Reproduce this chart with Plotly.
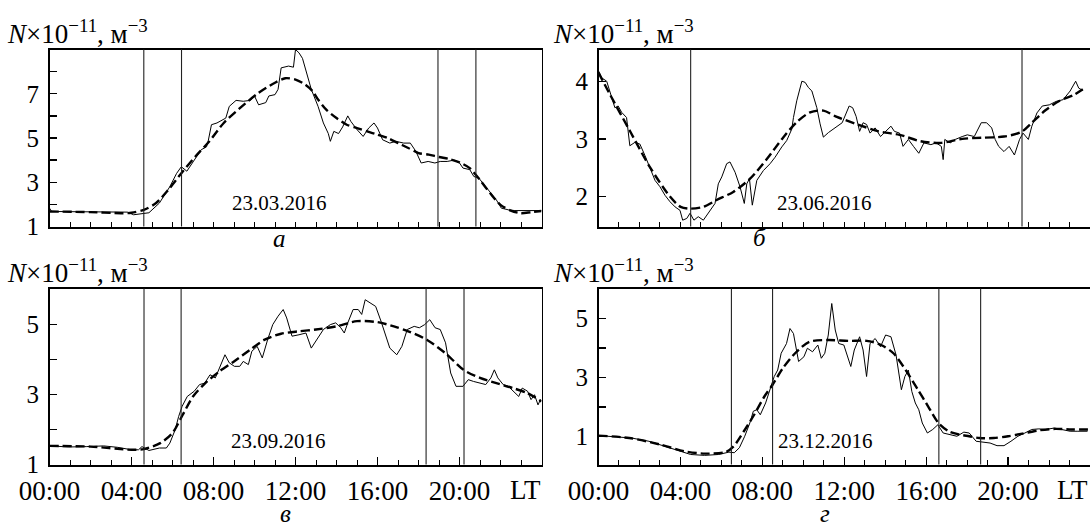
import plotly.graph_objects as go

# ---------------- data (hours LT, N x 1e-11 m^-3) ----------------
a_hours = [0.0, 0.1, 1.0, 2.0, 3.0, 3.8, 4.1, 4.3, 4.5, 4.85, 5.36, 5.87, 6.2, 6.43, 6.7, 7.06, 7.4, 7.66, 7.75, 7.9,
           8.17, 8.6, 8.77, 9.1, 9.45, 9.8, 10.0, 10.2, 10.55, 10.7, 11.0, 11.15, 11.3, 11.66, 11.9, 12.0, 12.17, 12.34,
           12.5, 12.77, 13.1, 13.36, 13.6, 13.7, 13.87, 14.1, 14.3, 14.55, 14.7, 15.0, 15.3, 15.57, 15.83, 16.0, 16.25,
           16.6, 16.9, 17.28, 17.6, 17.87, 18.13, 18.47, 18.8, 19.06, 19.4, 19.74, 20.0, 20.17, 20.5, 20.7, 20.94, 21.2,
           21.5, 21.8, 22.04, 22.4, 22.7, 23.06, 23.4, 23.74, 24.0]
a_N = [1.83, 1.68, 1.67, 1.66, 1.66, 1.65, 1.53, 1.55, 1.6, 1.62, 2.06, 2.8, 3.4, 3.7, 3.5, 4.0, 4.47, 4.6, 4.9, 5.6,
       5.68, 5.9, 6.43, 6.7, 6.66, 6.7, 6.9, 6.5, 6.6, 6.9, 6.96, 7.2, 8.17, 8.25, 8.2, 9.0, 8.85, 8.6,
       8.1, 7.2, 6.43, 5.68, 5.2, 4.85, 5.3, 5.2, 5.5, 6.0, 5.75, 5.38, 5.07, 5.45, 5.68, 5.45, 4.92,
       4.77, 4.85, 4.77, 4.77, 4.4, 3.87, 3.94, 3.87, 3.94, 3.94, 4.0, 3.87, 3.64, 3.57, 3.26, 3.19, 2.89,
       2.58, 2.2, 1.83, 1.75, 1.72, 1.72, 1.75, 1.75, 1.72]
a_fit_hours = [0, 2, 3.5, 4.0, 4.6, 5.2, 5.8, 6.5, 7.2, 7.8, 8.5, 9.3, 10.2, 11.0, 11.5, 12.0, 12.5, 12.85, 13.1, 13.5,
               14.0, 14.5, 15.0, 15.5, 16.0, 16.5, 17.0, 17.5, 18.0, 18.5, 19.0, 19.5, 20.0, 20.5, 21.0, 21.5, 22.0,
               22.5, 23.0, 23.5, 24.0]
a_fit_N = [1.68, 1.65, 1.6, 1.62, 1.75, 2.06, 2.66, 3.49, 4.25, 4.85, 5.68, 6.36, 7.04, 7.5, 7.7, 7.64, 7.4, 7.1, 6.74,
           6.28, 5.9, 5.6, 5.45, 5.3, 5.15, 5.0, 4.77, 4.55, 4.32, 4.25, 4.14, 4.05, 3.9, 3.64, 3.1, 2.5, 1.98,
           1.72, 1.6, 1.65, 1.7]
a_lines = [4.6, 6.44, 18.95, 20.8]

b_hours = [0.0, 0.15, 0.4, 0.56, 0.8, 0.96, 1.13, 1.37, 1.53, 1.78, 2.02, 2.27, 2.51, 2.76, 3.0, 3.25, 3.49, 3.74, 3.98,
           4.11, 4.31, 4.47, 4.66, 4.87, 5.12, 5.36, 5.69, 5.85, 6.02, 6.26, 6.42, 6.67, 6.91, 7.12, 7.24, 7.37, 7.51,
           7.73, 8.05, 8.38, 8.62, 8.95, 9.19, 9.44, 9.52, 9.68, 9.93, 10.09, 10.25, 10.42, 10.66, 10.82, 10.98, 11.23,
           11.64, 11.9, 12.24, 12.41, 12.58, 12.75, 12.92, 13.09, 13.26, 13.51, 13.77, 14.02, 14.28, 14.45, 14.7, 14.87,
           15.13, 15.38, 15.64, 15.89, 16.23, 16.49, 16.74, 16.83, 16.91, 17.17, 17.42, 17.76, 18.01, 18.35, 18.69,
           18.95, 19.2, 19.37, 19.54, 19.8, 20.05, 20.31, 20.56, 20.73, 20.99, 21.16, 21.41, 21.67, 22.01, 22.35,
           22.69, 23.03, 23.3, 23.45, 23.65]
b_N = [4.18, 4.06, 4.0, 3.8, 3.54, 3.57, 3.46, 3.37, 2.88, 2.94, 2.91, 2.71, 2.51, 2.28, 2.17, 2.02, 1.91, 1.82, 1.76,
       1.59, 1.62, 1.71, 1.59, 1.65, 1.59, 1.71, 1.88, 2.22, 2.34, 2.57, 2.6, 2.42, 2.17, 1.88, 2.22, 2.31, 1.85,
       2.28, 2.45, 2.57, 2.68, 2.86, 2.97, 3.17, 3.37, 3.66, 4.0, 3.98, 3.89, 3.83, 3.54, 3.26, 3.03, 3.11,
       3.22, 3.28, 3.57, 3.54, 3.39, 3.13, 3.28, 3.25, 3.1, 3.19, 3.04, 3.13, 3.22, 3.13, 3.1, 2.87,
       2.99, 2.87, 2.75, 2.93, 2.9, 2.93, 2.87, 2.64, 2.99, 2.93, 2.99, 3.04, 3.07, 3.04, 3.28,
       3.28, 3.19, 2.99, 2.87, 2.78, 2.87, 2.72, 2.99, 3.1, 2.99, 3.22, 3.45, 3.57, 3.59, 3.65,
       3.68, 3.83, 4.0, 3.88, 3.84]
b_fit_hours = [0.0, 0.56, 1.53, 2.51, 3.49, 4.01, 4.47, 5.12, 5.77, 6.58, 7.4, 8.22, 9.03, 9.68, 10.33, 10.98, 11.64,
               12.66, 13.68, 14.7, 15.72, 16.74, 17.76, 18.78, 19.8, 20.65, 21.16, 21.84, 22.52, 23.2, 23.65]
b_fit_N = [4.15, 3.77, 3.14, 2.51, 2.0, 1.82, 1.79, 1.82, 1.94, 2.08, 2.31, 2.65, 3.03, 3.29, 3.46, 3.49, 3.38,
           3.25, 3.13, 3.07, 2.96, 2.93, 3.0, 3.02, 3.04, 3.12, 3.28, 3.5, 3.66, 3.76, 3.86]
b_lines = [4.5, 20.68]

c_hours = [0.05, 0.94, 1.79, 2.64, 3.32, 4.0, 4.34, 4.51, 4.85, 5.36, 5.7, 5.87, 6.13, 6.3, 6.47, 6.72, 7.06, 7.32,
           7.57, 7.83, 8.09, 8.34, 8.56, 8.77, 9.02, 9.28, 9.45, 9.7, 9.87, 10.13, 10.38, 10.64, 10.89, 11.15, 11.4,
           11.57, 11.83, 12.17, 12.51, 12.77, 13.02, 13.36, 13.7, 13.96, 14.21, 14.38, 14.55, 14.81, 15.06, 15.23,
           15.4, 15.66, 15.91, 16.17, 16.43, 16.6, 16.94, 17.19, 17.45, 17.79, 18.04, 18.3, 18.55, 18.81, 19.06,
           19.32, 19.57, 19.83, 20.17, 20.43, 20.68, 21.02, 21.28, 21.53, 21.7, 21.87, 22.13, 22.38, 22.64, 22.89,
           23.06, 23.32, 23.49, 23.66, 23.83, 23.95]
c_N = [1.53, 1.5, 1.51, 1.53, 1.49, 1.42, 1.42, 1.51, 1.4, 1.47, 1.47, 1.61, 1.99, 2.37, 2.66, 2.94, 3.09, 3.28,
       3.32, 3.56, 3.47, 3.8, 4.13, 3.9, 3.8, 3.8, 3.94, 3.85, 4.23, 4.37, 4.04, 4.56, 4.99, 5.23, 5.42,
       5.18, 4.66, 4.7, 4.75, 4.32, 4.56, 4.85, 4.99, 5.04, 4.9, 4.75, 5.04, 5.42, 5.42, 5.28,
       5.7, 5.61, 5.51, 5.09, 4.66, 4.32, 4.13, 4.37, 4.85, 4.94, 4.9, 4.99, 5.13, 4.9, 4.85,
       4.47, 3.61, 3.23, 3.23, 3.42, 3.37, 3.32, 3.28, 3.47, 3.7, 3.47, 3.28, 3.23, 3.09, 2.94,
       3.18, 3.09, 2.85, 2.99, 2.7, 2.85]
c_fit_hours = [0, 2, 4.0, 4.6, 5.4, 6.0, 6.5, 7.0, 7.6, 8.3, 9.0, 9.8, 10.5, 11.3, 12.2, 13.0, 14.0, 15.0, 16.0, 16.8,
               17.5, 18.4, 19.3, 20.2, 21.0, 21.8, 22.6, 23.3, 24.0]
c_fit_N = [1.53, 1.51, 1.42, 1.44, 1.61, 1.9, 2.42, 2.94, 3.32, 3.66, 3.94, 4.28, 4.56, 4.73, 4.8, 4.85, 4.94, 5.09,
           5.06, 4.94, 4.8, 4.56, 4.18, 3.7, 3.47, 3.32, 3.18, 3.04, 2.8]
c_lines = [4.61, 6.42, 18.37, 20.22]

d_hours = [0.05, 0.76, 1.61, 2.46, 3.14, 3.82, 4.5, 5.18, 5.86, 6.37, 6.63, 6.88, 7.14, 7.39, 7.56, 7.73, 7.9, 8.16,
           8.41, 8.58, 8.75, 8.92, 9.18, 9.35, 9.52, 9.77, 10.03, 10.2, 10.45, 10.71, 10.88, 11.05, 11.22, 11.39,
           11.56, 11.73, 11.98, 12.15, 12.32, 12.49, 12.75, 12.92, 13.09, 13.26, 13.51, 13.77, 14.02, 14.28, 14.53,
           14.79, 14.96, 15.13, 15.3, 15.47, 15.64, 15.81, 16.06, 16.32, 16.57, 16.83, 17.17, 17.5, 17.84, 18.1,
           18.44, 18.78, 19.12, 19.46, 19.8, 20.14, 20.48, 20.82, 21.16, 21.5, 21.84, 22.26, 22.69, 23.03, 23.37,
           23.88]
d_N = [1.02, 0.98, 0.94, 0.83, 0.68, 0.53, 0.38, 0.35, 0.38, 0.46, 0.44, 0.61, 1.0, 1.45, 1.85, 1.9, 1.73, 2.13,
       2.69, 3.03, 3.25, 3.82, 4.15, 4.66, 4.49, 3.54, 3.7, 3.99, 3.87, 4.1, 3.65, 3.82, 4.44, 5.51,
       4.61, 4.15, 4.1, 3.7, 3.37, 3.93, 4.38, 3.93, 3.03, 4.15, 4.32, 4.04, 4.44, 4.38, 3.76,
       2.58, 3.03, 3.25, 2.52, 2.13, 1.9, 1.45, 1.11, 1.23, 1.39, 1.11, 1.06, 1.0, 1.14, 1.11,
       0.83, 0.8, 0.77, 0.68, 0.68, 0.83, 1.0, 1.11, 1.23, 1.25, 1.23, 1.28, 1.23, 1.17, 1.17,
       1.17]
d_fit_hours = [0, 1.5, 3.0, 4.2, 5.2, 6.2, 6.6, 7.1, 7.6, 8.1, 8.5, 9.0, 9.6, 10.3, 11.2, 12.2, 13.1, 13.8, 14.4, 15.0,
               15.6, 16.1, 16.6, 17.1, 17.6, 18.1, 18.6, 19.3, 20.0, 20.7, 21.5, 22.3, 23.1, 23.9]
d_fit_N = [1.02, 0.94, 0.72, 0.49, 0.41, 0.46, 0.66, 1.17, 1.73, 2.35, 2.75, 3.31, 3.82, 4.21, 4.27, 4.24, 4.24, 4.1,
           3.82, 3.25, 2.58, 2.01, 1.45, 1.17, 1.06, 1.0, 0.94, 0.94, 1.0, 1.09, 1.2, 1.25, 1.23, 1.23]
d_lines = [6.49, 8.5, 16.62, 18.66]

dates = ["23.03.2016", "23.06.2016", "23.09.2016", "23.12.2016"]
letters = ["а", "б", "в", "г"]
x_tickvals = [0, 4, 8, 12, 16, 20, 24]
x_ticktext = ["00:00", "04:00", "08:00", "12:00", "16:00", "20:00", ""]
y_tickvals = [[1, 2, 3, 4, 5, 6, 7, 8], [2, 3, 4], [1, 2, 3, 4, 5], [1, 2, 3, 4, 5]]
y_ticktext = [["1", "", "3", "", "5", "", "7", ""], ["2", "3", "4"], ["1", "", "3", "", "5"], ["1", "", "3", "", "5"]]
y_ranges = [[1, 9], [1.48, 4.55], [1, 6.02], [0.04, 6.02]]
date_pos = [(11.2, 2.07), (11.05, 1.89), (11.19, 1.66), (11.08, 0.83)]

# ---------------- figure ----------------
W, H = 1090, 526
FONT = "Liberation Serif"
px_x = lambda v: v / W
px_y = lambda v: 1 - v / H

LX = [px_x(49.5), px_x(541.5)]
RX = [px_x(598.5), 1.0]
TY = [px_y(226.5), px_y(49.5)]
BY = [px_y(464.5), px_y(288.5)]
x_domains = [LX, RX, LX, RX]
y_domains = [TY, TY, BY, BY]

panels = [
    (a_hours, a_N, a_fit_hours, a_fit_N, a_lines),
    (b_hours, b_N, b_fit_hours, b_fit_N, b_lines),
    (c_hours, c_N, c_fit_hours, c_fit_N, c_lines),
    (d_hours, d_N, d_fit_hours, d_fit_N, d_lines),
]

fig = go.Figure()
layout = dict(width=W, height=H, margin=dict(l=0, r=0, t=0, b=0, autoexpand=False),
              paper_bgcolor="white", plot_bgcolor="white", showlegend=False,
              font=dict(family=FONT, color="black"))
shapes = []
annotations = []

for i, (hx, hy, fx, fy, lines) in enumerate(panels):
    k = "" if i == 0 else str(i + 1)
    xa, ya = "x" + k, "y" + k
    fig.add_trace(go.Scatter(x=fx, y=fy, mode="lines", xaxis=xa, yaxis=ya,
                             line=dict(color="black", width=2.4, dash="9px,4px", shape="spline", smoothing=0.8),
                             hoverinfo="skip"))
    fig.add_trace(go.Scatter(x=hx, y=hy, mode="lines", xaxis=xa, yaxis=ya,
                             line=dict(color="black", width=1.0), hoverinfo="skip"))
    bottom = i >= 2
    layout["xaxis" + k] = dict(domain=x_domains[i], anchor=ya, range=[0, 24], showgrid=False, zeroline=False,
                               showline=True, linecolor="black", linewidth=2, mirror=True,
                               ticks="inside", ticklen=8, tickwidth=1.2, tickcolor="black",
                               tickvals=x_tickvals, ticktext=x_ticktext if bottom else [""] * 7,
                               showticklabels=bottom, tickfont=dict(family=FONT, size=27, color="black"),
                               ticklabelstandoff=1,
                               minor=dict(ticks="inside", ticklen=5, tickwidth=1, tickcolor="black", dtick=1))
    layout["yaxis" + k] = dict(domain=y_domains[i], anchor=xa, range=y_ranges[i], showgrid=False, zeroline=False,
                               showline=True, linecolor="black", linewidth=1.6, mirror=True,
                               ticks="inside", ticklen=7, tickwidth=1.4, tickcolor="black",
                               tickvals=y_tickvals[i], ticktext=y_ticktext[i],
                               tickfont=dict(family=FONT, size=25, color="black"),
                               ticklabelstandoff=4)
    for h in lines:
        shapes.append(dict(type="line", xref=xa, yref=ya + " domain", x0=h, x1=h, y0=0, y1=1,
                           line=dict(color="#222", width=1.1)))
    # date label
    annotations.append(dict(x=date_pos[i][0], y=date_pos[i][1], xref=xa, yref=ya, text=dates[i],
                            showarrow=False, font=dict(family=FONT, size=21, color="black")))
    # axis title
    tx = px_x(5) if i % 2 == 0 else px_x(551)
    ty = px_y(51) if i < 2 else px_y(290)
    annotations.append(dict(x=tx, y=ty, xref="paper", yref="paper", xanchor="left", yanchor="bottom",
                            text="<i>N</i>×10<sup>−11</sup>, м<sup>−3</sup>", showarrow=False,
                            font=dict(family=FONT, size=27, color="black")))

# panel letters
letter_pos = [(279, 238), (760, 237), (285, 513), (825, 513)]
for (lx, ly), t in zip(letter_pos, letters):
    annotations.append(dict(x=px_x(lx), y=px_y(ly), xref="paper", yref="paper", text="<i>" + t + "</i>",
                            showarrow=False, xanchor="center", yanchor="middle",
                            font=dict(family=FONT, size=25, color="black")))
# LT labels at right end of bottom axes
for xr in [px_x(543), px_x(1090)]:
    annotations.append(dict(x=xr, y=px_y(490), xref="paper", yref="paper", text="LT", showarrow=False,
                            xanchor="right", yanchor="middle", font=dict(family=FONT, size=27, color="black")))

layout["shapes"] = shapes
layout["annotations"] = annotations
fig.update_layout(**layout)
fig.write_html("out.html", config={"displayModeBar": False, "staticPlot": True},
               post_script="document.body.style.margin='0';document.body.style.overflow='hidden';")
